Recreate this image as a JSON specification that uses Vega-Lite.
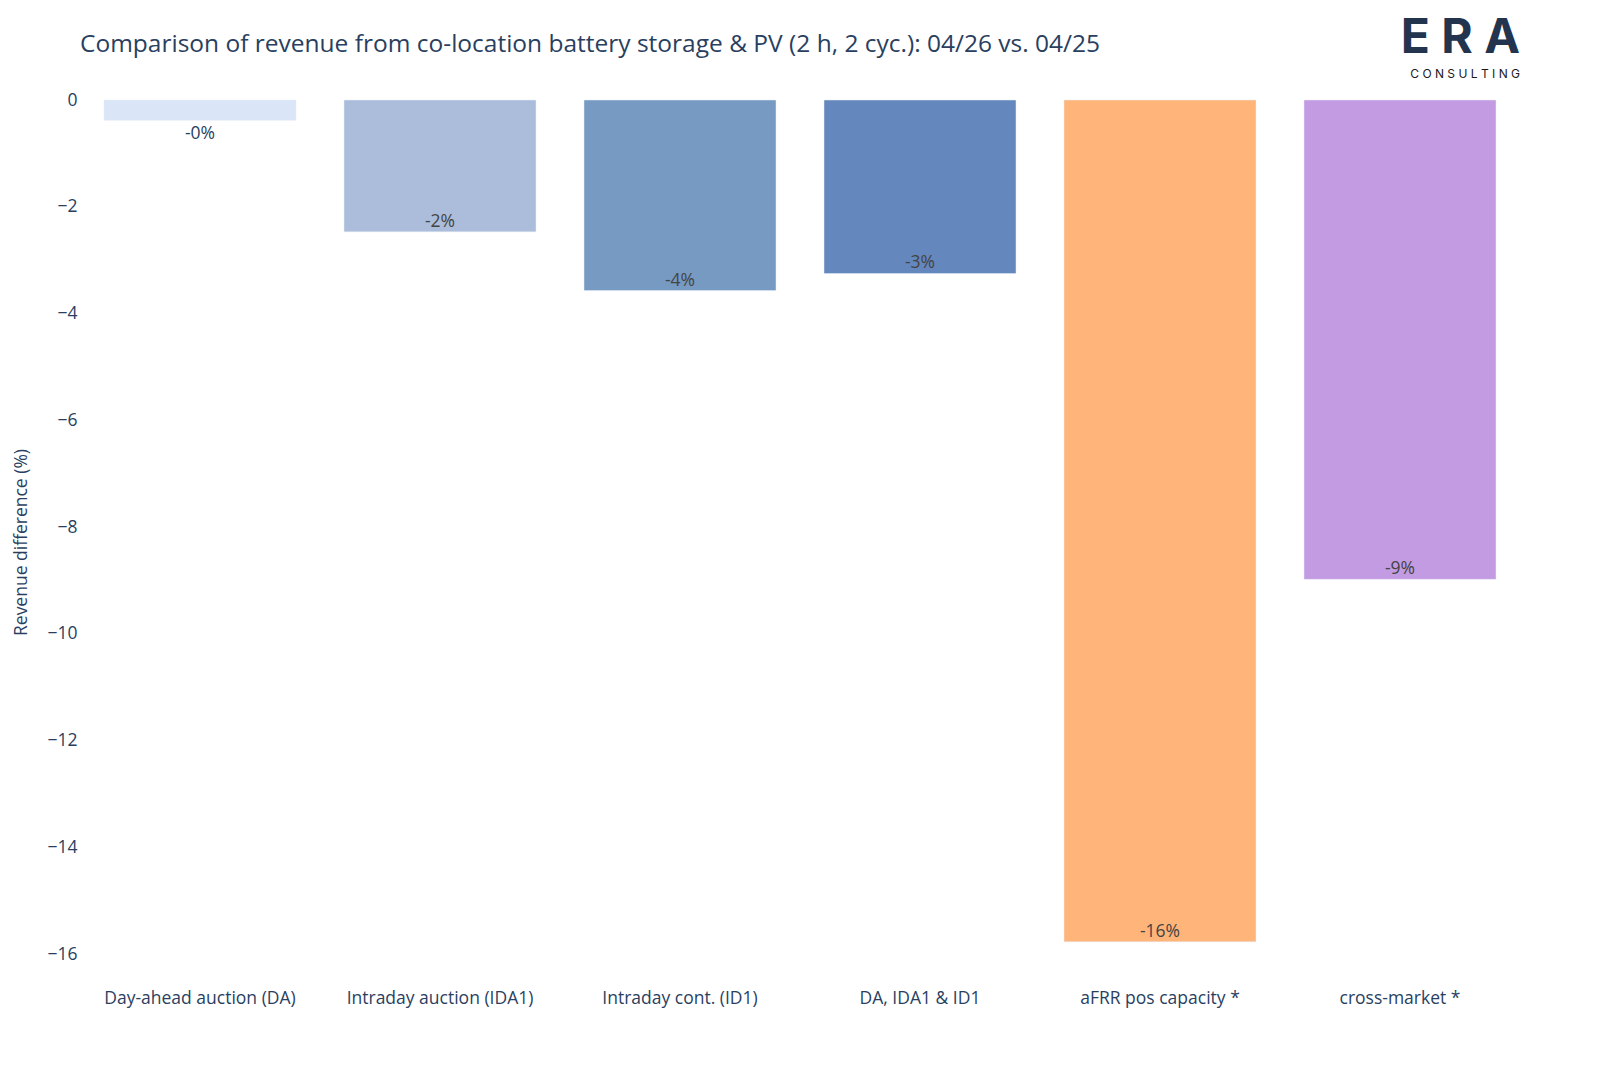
{
  "$schema": "https://vega.github.io/schema/vega-lite/v6.json",
  "autosize": "none",
  "width": 1440,
  "height": 884,
  "padding": {"left": 80, "top": 100, "right": 80, "bottom": 83},
  "background": "white",
  "config": {"view": {"stroke": null}, "font": "Open Sans"},
  "title": {
    "text": "Comparison of revenue from co-location battery storage & PV (2 h, 2 cyc.): 04/26 vs. 04/25",
    "anchor": "start",
    "frame": "group",
    "fontSize": 24.5,
    "fontWeight": "normal",
    "color": "#2a3f5f",
    "font": "Open Sans",
    "offset": -42
  },
  "data": {
    "values": [
      {"market": "Day-ahead auction (DA)", "diff": -0.38, "label": "-0%", "inside": false},
      {"market": "Intraday auction (IDA1)", "diff": -2.47, "label": "-2%", "inside": true},
      {"market": "Intraday cont. (ID1)", "diff": -3.57, "label": "-4%", "inside": true},
      {"market": "DA, IDA1 & ID1", "diff": -3.25, "label": "-3%", "inside": true},
      {"market": "aFRR pos capacity *", "diff": -15.77, "label": "-16%", "inside": true},
      {"market": "cross-market *", "diff": -8.98, "label": "-9%", "inside": true}
    ]
  },
  "encoding": {
    "x": {
      "field": "market",
      "type": "nominal",
      "sort": null,
      "scale": {"paddingInner": 0.2, "paddingOuter": 0.1},
      "axis": {
        "title": null,
        "labelAngle": 0,
        "labelFontSize": 17.5,
        "labelColor": "#2a3f5f",
        "labelFont": "Open Sans",
        "labelLimit": 0,
        "domain": false,
        "ticks": false,
        "labelPadding": 5
      }
    }
  },
  "layer": [
    {
      "mark": {"type": "bar", "stroke": "#E5ECF6", "strokeWidth": 0.5},
      "encoding": {
        "y": {
          "field": "diff",
          "type": "quantitative",
          "scale": {"domain": [-16.56, 0], "nice": false, "zero": false},
          "axis": {
            "title": "Revenue difference (%)",
            "titleFontSize": 17.5,
            "titleFontWeight": "normal",
            "titleColor": "#2a3f5f",
            "titleFont": "Open Sans",
            "titlePadding": 16,
            "values": [0, -2, -4, -6, -8, -10, -12, -14, -16],
            "labelFontSize": 17.5,
            "labelColor": "#2a3f5f",
            "labelFont": "Open Sans",
            "labelPadding": 3,
            "domain": false,
            "ticks": false,
            "grid": false,
            "labelExpr": "replace(datum.label, '-', '\u2212')"
          }
        },
        "color": {
          "field": "market",
          "type": "nominal",
          "sort": null,
          "legend": null,
          "scale": {
            "domain": ["Day-ahead auction (DA)", "Intraday auction (IDA1)", "Intraday cont. (ID1)", "DA, IDA1 & ID1", "aFRR pos capacity *", "cross-market *"],
            "range": ["#dae6f7", "#abbdda", "#779ac2", "#6487bd", "#ffb479", "#c39be2"]
          }
        }
      }
    },
    {
      "transform": [{"filter": "datum.inside"}],
      "mark": {"type": "text", "baseline": "bottom", "dy": -1, "fontSize": 17.5, "color": "#444444", "font": "Open Sans"},
      "encoding": {
        "y": {"field": "diff", "type": "quantitative"},
        "text": {"field": "label"}
      }
    },
    {
      "transform": [{"filter": "!datum.inside"}],
      "mark": {"type": "text", "baseline": "top", "dy": 5, "fontSize": 17.5, "color": "#2a3f5f", "font": "Open Sans"},
      "encoding": {
        "y": {"field": "diff", "type": "quantitative"},
        "text": {"field": "label"}
      }
    },
    {
      "data": {"values": [{"logo": "E R A", "pos": 1.14}]},
      "mark": {"type": "text", "align": "right", "baseline": "middle", "dx": 120, "fontSize": 48, "fontWeight": "bold", "color": "#23344f", "font": "Inter"},
      "encoding": {
        "x": {"datum": "cross-market *"},
        "y": {"field": "pos", "type": "quantitative"},
        "text": {"field": "logo"}
      }
    },
    {
      "data": {"values": [{"logo": "C O N S U L T I N G", "pos": 0.49}]},
      "mark": {"type": "text", "align": "right", "baseline": "middle", "dx": 120, "fontSize": 12, "color": "#1a1a1a", "font": "Inter"},
      "encoding": {
        "x": {"datum": "cross-market *"},
        "y": {"field": "pos", "type": "quantitative"},
        "text": {"field": "logo"}
      }
    }
  ]
}
